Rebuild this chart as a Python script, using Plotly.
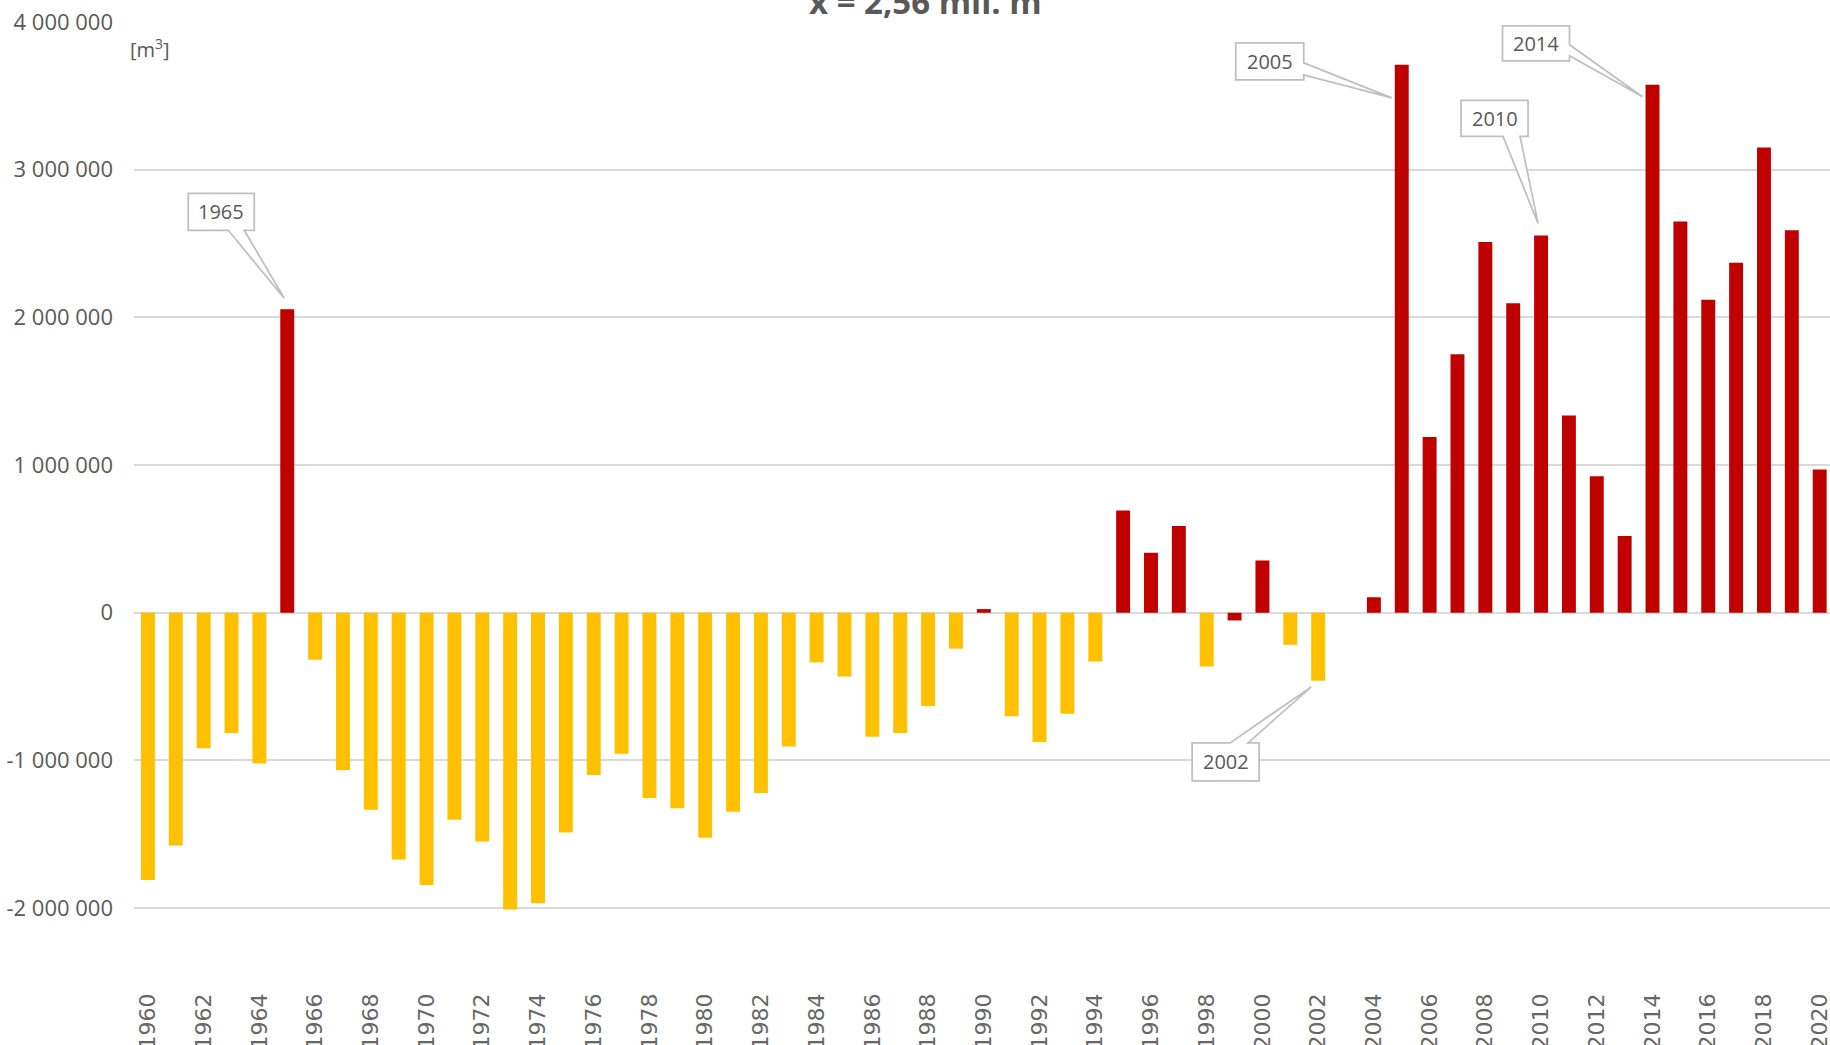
import plotly.graph_objects as go

# ---------------- data ----------------
years = list(range(1960, 2021))
values_mil = [
    -1.810, -1.576, -0.918, -0.814, -1.021, 2.055, -0.318, -1.064, -1.333, -1.671,
    -1.844, -1.402, -1.549, -2.009, -1.966, -1.488, -1.098, -0.954, -1.254, -1.324,
    -1.524, -1.348, -1.220, -0.906, -0.336, -0.431, -0.839, -0.814, -0.631, -0.243,
    0.025, -0.701, -0.875, -0.683, -0.330, 0.693, 0.406, 0.587, -0.364, -0.052,
    0.354, -0.217, -0.461, None, 0.105, 3.710, 1.190, 1.750, 2.510, 2.095,
    2.555, 1.335, 0.925, 0.520, 3.575, 2.650, 2.120, 2.370, 3.150, 2.590,
    0.970,
]
# group membership per year (1 = red group, 0 = yellow group)
red_group = [
    0, 0, 0, 0, 0, 1, 0, 0, 0, 0,
    0, 0, 0, 0, 0, 0, 0, 0, 0, 0,
    0, 0, 0, 0, 0, 0, 0, 0, 0, 0,
    1, 0, 0, 0, 0, 1, 1, 1, 0, 1,
    1, 0, 0, 0, 1, 1, 1, 1, 1, 1,
    1, 1, 1, 1, 1, 1, 1, 1, 1, 1,
    1,
]
y_tick_vals = [-2000000, -1000000, 0, 1000000, 2000000, 3000000, 4000000]
y_tick_text = ["-2 000 000", "-1 000 000", "0", "1 000 000", "2 000 000", "3 000 000", "4 000 000"]
x_tick_vals = years[::2]
x_tick_text = [str(y) for y in x_tick_vals]
callout_years = [1965, 2002, 2005, 2010, 2014]
title_text = "x̄ = 2,56 mil. m<sup>3</sup>"
unit_text = "[m<sup>3</sup>]"

values = [None if v is None else v * 1e6 for v in values_mil]
red_vals = [v if g == 1 else None for v, g in zip(values, red_group)]
yellow_vals = [v if g == 0 else None for v, g in zip(values, red_group)]

RED = "#C00000"
YELLOW = "#FFC000"
GRID = "#d9d9d9"
TXT = "#595959"

W, H = 1830, 1045
ML, MR, MT, MB = 134, 0, 22, 63
PW, PH = W - ML - MR, H - MT - MB


def px_x(p):
    return (p - ML) / PW


def px_y(p):
    return (H - MB - p) / PH


fig = go.Figure()
fig.add_trace(go.Bar(x=years, y=yellow_vals, marker=dict(color=YELLOW, line=dict(width=0)),
                     width=0.5, hoverinfo="x+y"))
fig.add_trace(go.Bar(x=years, y=red_vals, marker=dict(color=RED, line=dict(width=0)),
                     width=0.5, hoverinfo="x+y"))

fig.update_layout(
    width=W, height=H,
    margin=dict(l=ML, r=MR, t=MT, b=MB, pad=0),
    paper_bgcolor="white", plot_bgcolor="white",
    showlegend=False, barmode="overlay",
    xaxis=dict(range=[1959.5, 2020.37], tickmode="array", tickvals=x_tick_vals,
               ticktext=x_tick_text, tickangle=-90, showgrid=False, zeroline=False,
               showline=False, ticks="", automargin=False, ticklabelstandoff=6,
               ticklabeloverflow="allow",
               tickfont=dict(family="DejaVu Sans", size=22, color="#666666")),
    yaxis=dict(range=[-2500000, 4000000], tickmode="array", tickvals=y_tick_vals,
               ticktext=y_tick_text, showgrid=True, gridcolor=GRID, gridwidth=1.5,
               zeroline=False, showline=False, ticks="", automargin=False,
               ticklabelstandoff=20,
               tickfont=dict(family="Open Sans", size=22, color=TXT)),
)

# white title box hiding the top gridline
fig.add_shape(type="rect", xref="paper", yref="paper",
              x0=px_x(380), x1=px_x(1485), y0=px_y(32), y1=px_y(-5),
              fillcolor="white", line=dict(width=0), layer="above")

fig.add_annotation(text="<b>" + title_text + "</b>", xref="paper", yref="paper",
                   x=px_x(932), y=px_y(-1), xanchor="center", yanchor="middle",
                   showarrow=False, font=dict(family="Open Sans", size=33, color=TXT))
fig.add_annotation(text=unit_text, xref="paper", yref="paper",
                   x=px_x(128), y=px_y(48), xanchor="left", yanchor="middle",
                   showarrow=False, font=dict(family="Open Sans", size=20, color=TXT))

# callout geometry (screen pixel offsets from bar centre / bar end, y down)
callout_geom = {
    1965: dict(box=(-99, -33, -116, -79), edge="bottom", base=(-59, -43), tip=(-3, -11)),
    2002: dict(box=(-126, -59, 62, 100), edge="top", base=(-88, -70), tip=(-7, 6)),
    2005: dict(box=(-166, -98, -22, 15), edge="right", base=(-2, 10), tip=(-10, 33)),
    2010: dict(box=(-80, -13, -135, -99), edge="bottom", base=(-38, -21), tip=(-3, -12)),
    2014: dict(box=(-150, -83, -59, -24), edge="right", base=(-40, -29), tip=(-10, 12)),
}


def callout_path(g):
    L, R, T, B = g["box"]
    a, b = g["base"]
    tx, ty = g["tip"]
    e = g["edge"]
    if e == "bottom":
        pts = [(L, T), (R, T), (R, B), (b, B), (tx, ty), (a, B), (L, B)]
    elif e == "top":
        pts = [(L, T), (a, T), (tx, ty), (b, T), (R, T), (R, B), (L, B)]
    else:  # right
        pts = [(L, T), (R, T), (R, a), (tx, ty), (R, b), (R, B), (L, B)]
    return "M " + " L ".join(f"{x},{-y}" for x, y in pts) + " Z"


for yr in callout_years:
    val = values[years.index(yr)]
    g = callout_geom[yr]
    fig.add_shape(type="path", xref="x", yref="y", xsizemode="pixel", ysizemode="pixel",
                  xanchor=yr, yanchor=val, path=callout_path(g),
                  fillcolor="white", line=dict(color="#bfbfbf", width=1.75), layer="above")
    L, R, T, B = g["box"]
    fig.add_annotation(text=str(yr), x=yr, y=val, xref="x", yref="y", showarrow=False,
                       xshift=(L + R) / 2, yshift=-(T + B) / 2,
                       xanchor="center", yanchor="middle",
                       font=dict(family="Open Sans", size=20, color=TXT))

fig.write_html(
    "out.html",
    config={"displayModeBar": False},
    post_script="document.body.style.margin='0';document.body.style.padding='0';"
                "document.documentElement.style.overflow='hidden';",
)
